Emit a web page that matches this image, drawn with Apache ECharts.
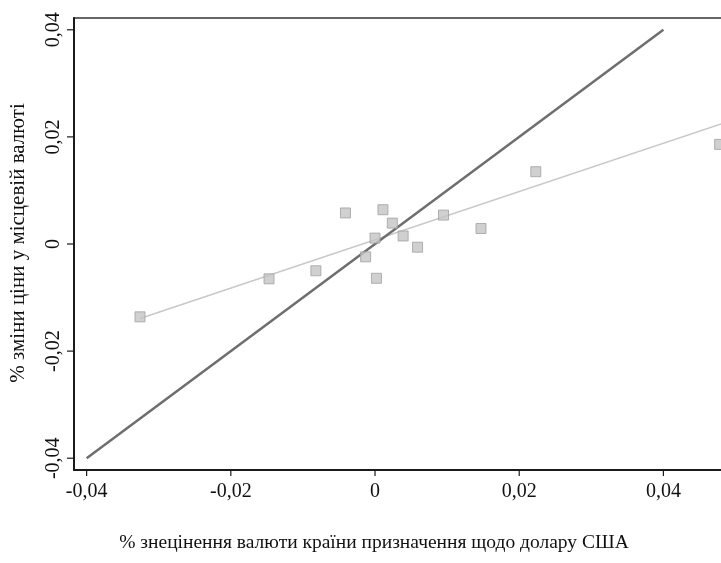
<!DOCTYPE html>
<html>
<head>
<meta charset="utf-8">
<script src="https://cdn.jsdelivr.net/npm/echarts@6/dist/echarts.min.js"></script>
<style>html,body{margin:0;padding:0;background:#fff}#c{width:721px;height:563px}</style>
</head>
<body>
<div id="c"></div>
<script>
// Scatter data (x: % depreciation, y: % price change)
var pointsX = [-0.0326, -0.0147, -0.0082, -0.0041, -0.0013, 0.0000, 0.0002, 0.0011, 0.0024, 0.0039, 0.0059, 0.0095, 0.0147, 0.0223, 0.0478];
var pointsY = [-0.0136, -0.0065, -0.0050, 0.0058, -0.0024, 0.0011, -0.0064, 0.0064, 0.0039, 0.0015, -0.0006, 0.0054, 0.0029, 0.0135, 0.0186];
// 45-degree line
var diagX = [-0.04, 0.04];
var diagY = [-0.04, 0.04];
// fitted line
var fitX = [-0.0326, 0.048];
var fitY = [-0.0139, 0.0224];
var xTicks = [-0.04, -0.02, 0, 0.02, 0.04];
var yTicks = [-0.04, -0.02, 0, 0.02, 0.04];
var xTitle = '% знецінення валюти країни призначення щодо долару США';
var yTitle = '% зміни ціни у місцевій валюті';

function fmt(v){
  var r = Math.round(v*100)/100;
  if (Math.abs(r) < 1e-9) return '0';
  return r.toFixed(2).replace('.', ',');
}
function zip(a,b){ return a.map(function(v,i){ return [v,b[i]]; }); }

var font = 'Liberation Serif';
var chart = echarts.init(document.getElementById('c'));
chart.setOption({
  animation: false,
  backgroundColor: '#fff',
  grid: {left: 74, top: 18, width: 661.5, height: 452, show: true, borderColor: '#666', borderWidth: 2,
         backgroundColor: 'transparent', containLabel: false, outerBoundsMode: 'none'},
  graphic: [
    {type: 'text', x: 374, y: 543, style: {text: xTitle, fontFamily: font, fontSize: 19.5, fill: '#111', align: 'center', verticalAlign: 'middle'}},
    {type: 'text', x: 18, y: 243, rotation: Math.PI/2, style: {text: yTitle, fontFamily: font, fontSize: 21, fill: '#111', align: 'center', verticalAlign: 'middle'}}
  ],
  xAxis: {
    type: 'value', min: -0.04175, max: 0.05,
    splitLine: {show: false},
    axisLine: {show: true, onZero: false, lineStyle: {color: '#1a1a1a', width: 2}},
    axisTick: {show: false},
    axisLabel: {show: false}
  },
  yAxis: {
    type: 'value', min: -0.0422, max: 0.0422,
    splitLine: {show: false},
    axisLine: {show: true, onZero: false, lineStyle: {color: '#1a1a1a', width: 2}},
    axisTick: {show: false},
    axisLabel: {show: false}
  },
  series: [
    {
      type: 'line', data: zip(fitX, fitY), symbol: 'none',
      lineStyle: {color: '#c8c8c8', width: 1.5}, z: 2
    },
    {
      type: 'line', data: zip(diagX, diagY), symbol: 'none',
      lineStyle: {color: '#6e6e6e', width: 2.5}, z: 3
    },
    {
      type: 'scatter', data: zip(pointsX, pointsY), symbol: 'rect', symbolSize: 10,
      itemStyle: {color: '#c4c4c4', borderColor: '#a0a0a0', borderWidth: 1}, z: 4
    },
    {
      type: 'custom', z: 5, silent: true,
      renderItem: function(params, api){
        var v = api.value(0);
        var p = api.coord([v, -0.0422]);
        return {type: 'group', children: [
          {type: 'line', shape: {x1: p[0], y1: p[1], x2: p[0], y2: p[1]+6}, style: {stroke: '#1a1a1a', lineWidth: 1.2}},
          {type: 'text', x: p[0], y: p[1]+12, style: {text: fmt(v), fontFamily: font, fontSize: 20, fill: '#111', align: 'center', verticalAlign: 'top'}}
        ]};
      },
      data: xTicks.map(function(v){ return [v, 0]; })
    },
    {
      type: 'custom', z: 5, silent: true,
      renderItem: function(params, api){
        var v = api.value(1);
        var p = api.coord([-0.04175, v]);
        return {type: 'group', children: [
          {type: 'line', shape: {x1: p[0]-7, y1: p[1], x2: p[0], y2: p[1]}, style: {stroke: '#1a1a1a', lineWidth: 1.2}},
          {type: 'text', x: p[0]-20, y: p[1], rotation: Math.PI/2, style: {text: fmt(v), fontFamily: font, fontSize: 20, fill: '#111', align: 'center', verticalAlign: 'middle'}}
        ]};
      },
      data: yTicks.map(function(v){ return [0, v]; })
    }
  ]
});
</script>
</body>
</html>
